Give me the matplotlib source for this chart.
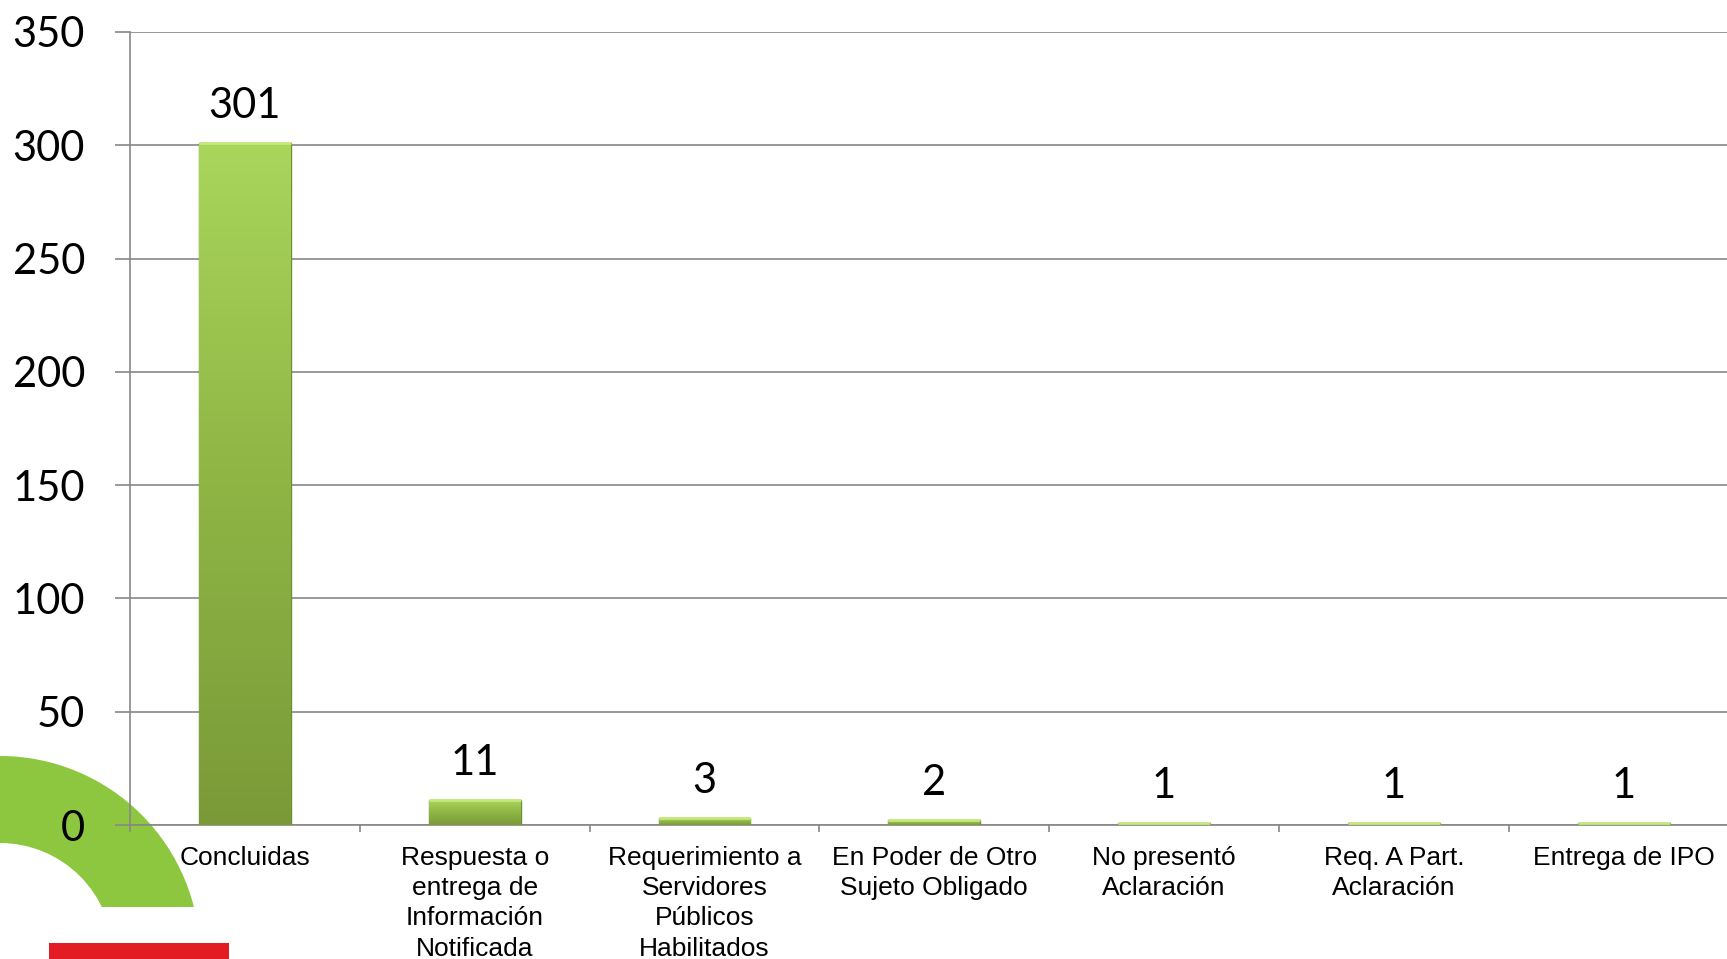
import matplotlib.pyplot as plt
import numpy as np
from matplotlib.patches import Wedge, Rectangle
from matplotlib.colors import LinearSegmentedColormap

categories = [
    "Concluidas",
    "Respuesta o\nentrega de\nInformación\nNotificada",
    "Requerimiento a\nServidores\nPúblicos\nHabilitados",
    "En Poder de Otro\nSujeto Obligado",
    "No presentó\nAclaración",
    "Req. A Part.\nAclaración",
    "Entrega de IPO",
]
values = [301, 11, 3, 2, 1, 1, 1]
y_ticks = [0, 50, 100, 150, 200, 250, 300, 350]

fig = plt.figure(figsize=(17.27, 9.59), dpi=100)

# background decoration (pixel coords)
bg = fig.add_axes([0, 0, 1, 1], zorder=0)
bg.set_xlim(0, 1727)
bg.set_ylim(0, 959)
bg.axis('off')
ring = Wedge((0, 3), 200, 0, 180, width=87, facecolor='#8dc63f', edgecolor='none')
bg.add_patch(ring)
ring.set_clip_path(Rectangle((-300, 52), 800, 500, transform=bg.transData))
bg.add_patch(Rectangle((49, 0), 180, 16, facecolor='#e31b23', edgecolor='none'))

# axis runs a little past the right edge of the picture
ax = fig.add_axes([0.0753, 0.1397, 0.9314, 0.827], zorder=1)
ax.patch.set_alpha(0)

x = np.arange(len(values))
bw = 0.40
bars = ax.bar(x, values, width=bw, color='#93bd48', edgecolor='#6f8f33', linewidth=1.0, zorder=3)

cmap = LinearSegmentedColormap.from_list('grn', ['#7a9a38', '#8fb545', '#a9d65b'])
grad = np.linspace(0, 1, 256).reshape(-1, 1)
for b in bars:
    x0 = b.get_x()
    h = b.get_height()
    im = ax.imshow(grad, extent=[x0, x0 + bw, 0, h], origin='lower', aspect='auto',
                   cmap=cmap, zorder=3.5)
    im.set_clip_path(b)
    # light top bevel
    ax.plot([x0, x0 + bw], [h, h], color='#c4e87c', lw=2.0, zorder=4, solid_capstyle='butt')

for xi, v in zip(x, values):
    ax.annotate(str(v), (xi, v), xytext=(0, 18), textcoords='offset points',
                ha='center', va='baseline', fontsize=30, family='Lato', color='black')

ax.set_xlim(-0.5, len(values) - 0.5)
ax.set_ylim(0, 350)
ax.set_yticks(y_ticks)
ax.set_yticklabels([str(t) for t in y_ticks], fontsize=30, family='Lato')
ax.set_xticks(x)
ax.set_xticklabels(categories, fontsize=19, family='Liberation Sans', linespacing=1.33)
ax.set_xticks(np.arange(-0.5, len(values), 1), minor=True)

ax.tick_params(axis='x', which='major', length=0, pad=15)
ax.tick_params(axis='x', which='minor', length=5, width=1.2, color='#878787')
ax.tick_params(axis='y', length=10.5, width=1.2, color='#878787', pad=22)

ax.yaxis.grid(True, color='#878787', linewidth=1.2, zorder=0)
ax.set_axisbelow(True)
for s in ['top', 'right']:
    ax.spines[s].set_visible(False)
for s in ['left', 'bottom']:
    ax.spines[s].set_color('#878787')
    ax.spines[s].set_linewidth(1.2)

fig.savefig('out.png', dpi=100)
